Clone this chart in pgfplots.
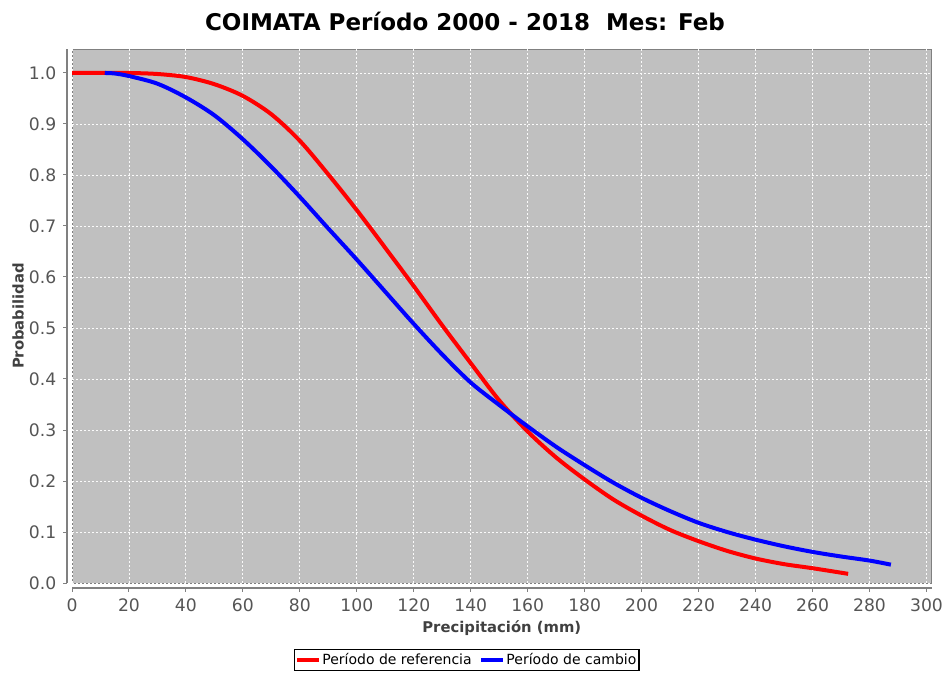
\documentclass[border=0pt]{standalone}
\usepackage{fontspec}
\setmainfont{DejaVu Sans}
\usepackage{pgfplots}
\pgfplotsset{compat=1.18}
\usepackage{pgfplotstable}
\definecolor{plotbg}{RGB}{192,192,192}
\definecolor{ticklab}{RGB}{85,85,85}
\definecolor{axlab}{RGB}{64,64,64}
\definecolor{axline}{RGB}{128,128,128}
\pgfplotstableread{
x p
0 1.000
10 1.000
20 1.000
30 0.998
40 0.992
50 0.978
60 0.955
70 0.919
80 0.867
90 0.801
100 0.731
110 0.657
120 0.582
130 0.505
140 0.431
150 0.358
160 0.297
170 0.246
180 0.203
190 0.164
200 0.132
210 0.104
220 0.082
230 0.063
240 0.048
250 0.037
260 0.029
272.5 0.018
}\refdata
\pgfplotstableread{
x p
11.5 1.000
15 0.999
20 0.994
30 0.979
40 0.952
50 0.917
60 0.870
70 0.816
80 0.757
90 0.695
100 0.634
110 0.571
120 0.508
130 0.448
140 0.393
150 0.349
160 0.307
170 0.267
180 0.231
190 0.197
200 0.167
210 0.141
220 0.118
230 0.100
240 0.085
250 0.072
260 0.061
270 0.052
280 0.044
287.5 0.036
}\cambiodata
\begin{document}
\begin{tikzpicture}
\begin{axis}[
  at={(0pt,0pt)}, anchor=origin,
  scale only axis,
  width=429.8pt, height=267pt,
  xmin=0, xmax=301.8, ymin=0, ymax=1.047,
  xtick={0,20,...,300},
  ytick={0,0.1,...,1.0},
  /pgf/number format/assume math mode=true,
  yticklabel style={/pgf/number format/.cd, fixed, fixed zerofill, precision=1},
  xticklabel style={/pgf/number format/.cd, fixed, precision=0},
  tick label style={font=\fontsize{8.6}{10}\selectfont, text=ticklab},
  axis lines=left,
  axis line style={-, draw=axline, line width=0.6pt},
  every outer x axis line/.append style={-},
  every outer y axis line/.append style={-},
  axis x line shift=2.5pt,
  axis y line shift=2.5pt,
  tick align=outside,
  major tick length=1.8pt,
  tick style={draw=axline, line width=0.5pt},
  axis background/.style={fill=plotbg, draw=axline, line width=0.5pt},
  grid=major,
  grid style={white!92!plotbg, line width=0.45pt, dash pattern=on 1pt off 1pt},
  xlabel={Precipitación (mm)},
  ylabel={Probabilidad},
  every axis x label/.style={at={(axis description cs:0.5,-0.0843)}, anchor=center, font=\bfseries\fontsize{7.4}{9}\selectfont, text=axlab},
  every axis y label/.style={at={(axis description cs:-0.0628,0.5)}, anchor=center, rotate=90, font=\bfseries\fontsize{7.4}{9}\selectfont, text=axlab},
  legend columns=2,
  legend style={at={(axis description cs:0.459,-0.144)}, anchor=center, draw=black, line width=0.6pt, font=\fontsize{7}{8}\selectfont, inner xsep=0.5pt, inner ysep=1pt, /tikz/every even column/.append style={column sep=3pt}, nodes={inner sep=0.8pt}},
  legend image code/.code={\draw[#1, line width=2pt] (0pt,0pt) -- (10.8pt,0pt);},
]
\addplot[red, line width=2pt, smooth] table[x=x, y=p] {\refdata};
\addlegendentry{Período de referencia}
\addplot[blue, line width=2pt, smooth] table[x=x, y=p] {\cambiodata};
\addlegendentry{Período de cambio}
\end{axis}
\node[anchor=base, font=\bfseries\fontsize{11.5}{13}\selectfont] at (196.5pt,276.5pt) {COIMATA Período 2000 - 2018\ \ Mes: Feb};
\pgfresetboundingbox
\path[use as bounding box] (-36pt,-47pt) rectangle (435pt,291.5pt);
\end{tikzpicture}
\end{document}
